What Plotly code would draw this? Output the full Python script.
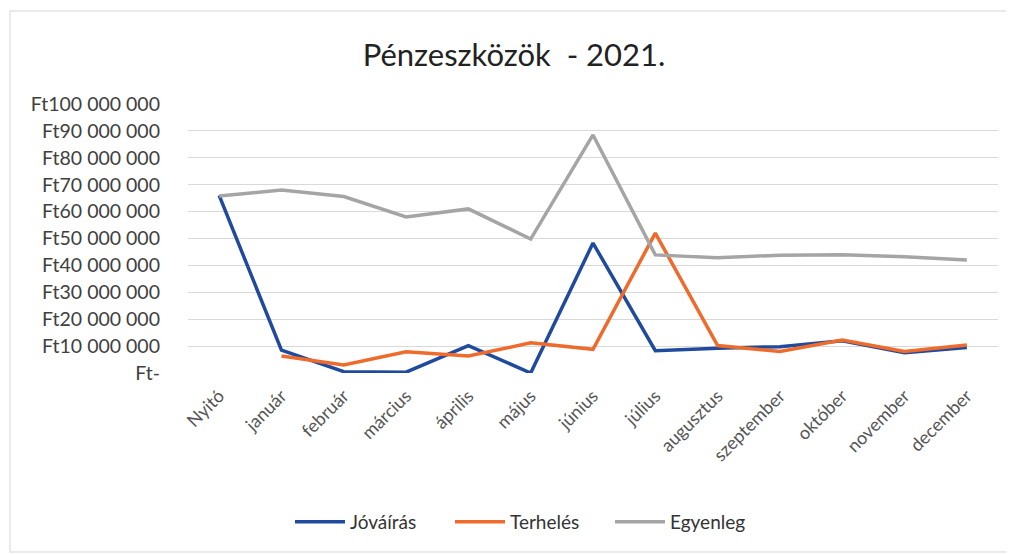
import plotly.graph_objects as go

categories = ["Nyitó", "január", "február", "március", "április", "május", "június",
              "július", "augusztus", "szeptember", "október", "november", "december"]
jovairas = [66.0e6, 8.5e6, 0.5e6, 0.3e6, 10.2e6, 0.0e6, 48.3e6, 8.3e6, 9.2e6, 9.8e6, 12.0e6, 7.5e6, 9.5e6]
terheles = [None, 6.3e6, 3.0e6, 7.9e6, 6.3e6, 11.2e6, 8.8e6, 52.0e6, 10.2e6, 8.0e6, 12.3e6, 8.0e6, 10.4e6]
egyenleg = [65.8e6, 68.0e6, 65.6e6, 58.0e6, 61.0e6, 49.8e6, 88.5e6, 43.9e6, 42.8e6, 43.8e6, 44.0e6, 43.2e6, 42.0e6]

y_ticks = [0, 10e6, 20e6, 30e6, 40e6, 50e6, 60e6, 70e6, 80e6, 90e6, 100e6]
y_labels = ["Ft-", "Ft10 000 000", "Ft20 000 000", "Ft30 000 000", "Ft40 000 000",
            "Ft50 000 000", "Ft60 000 000", "Ft70 000 000", "Ft80 000 000",
            "Ft90 000 000", "Ft100 000 000"]

FONT = "Lato, 'Open Sans', sans-serif"
W, H = 1006, 546  # page body has an 8px default margin

fig = go.Figure()
fig.add_trace(go.Scatter(x=categories, y=jovairas, name="Jóváírás", mode="lines",
                         line=dict(color="#1F4A9E", width=3.5)))
fig.add_trace(go.Scatter(x=categories, y=terheles, name="Terhelés", mode="lines",
                         line=dict(color="#EE6B2C", width=3.5)))
fig.add_trace(go.Scatter(x=categories, y=egyenleg, name="Egyenleg", mode="lines",
                         line=dict(color="#A5A5A5", width=3.5)))

fig.update_layout(
    width=W, height=H,
    paper_bgcolor="white", plot_bgcolor="white",
    margin=dict(l=180, r=16, t=96, b=181, autoexpand=False),
    font=dict(family=FONT, color="#404040", size=18),
    title=dict(text="Pénzeszközök  - 2021.", x=506 / W, xanchor="center",
               y=1 - 47 / H, yanchor="middle", yref="container",
               font=dict(family=FONT, size=31, color="#222222")),
    showlegend=True,
    legend=dict(orientation="h", x=(296 - 8 - 6) / W, xanchor="left", xref="container",
                y=1 - 514 / H, yanchor="middle", yref="container",
                font=dict(family=FONT, size=19, color="#333333"), itemwidth=50,
                entrywidth=95, entrywidthmode="pixels", tracegroupgap=0),
    xaxis=dict(type="category", tickangle=-45, showgrid=False, showline=False,
               ticks="", tickfont=dict(family=FONT, size=18, color="#555555"),
               ticklabelstandoff=8,
               range=[-0.5, 12.5], automargin=False),
    yaxis=dict(range=[0, 100e6], tickvals=y_ticks, ticktext=y_labels,
               showgrid=True, gridcolor="#D9D9D9", gridwidth=1, zeroline=False,
               showline=False, ticks="", ticklabelstandoff=27, automargin=False,
               tickfont=dict(family=FONT, size=19.5, color="#404040")),
    shapes=[dict(type="rect", xref="paper", yref="paper",
                 x0=(10 - 188) / 810, x1=(1030 - 188) / 810,
                 y0=(373 - 552) / 269, y1=(373 - 11) / 269,
                 line=dict(color="#E4E4E4", width=1.5), fillcolor="rgba(0,0,0,0)", layer="below")],
)

fig.write_html("out.html")
